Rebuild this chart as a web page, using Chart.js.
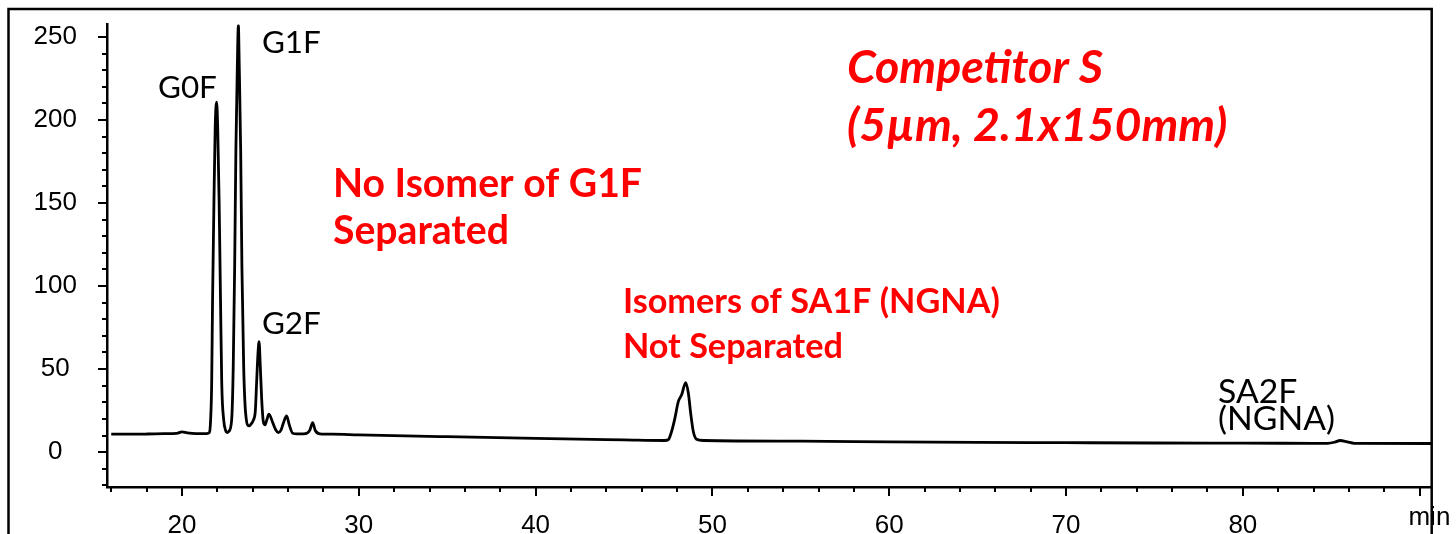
<!DOCTYPE html>
<html><head><meta charset="utf-8">
<script src="https://cdn.jsdelivr.net/npm/chart.js@4.4.1/dist/chart.umd.min.js"></script>
<style>html,body{margin:0;padding:0;background:#fff;}#wrap{width:1456px;height:534px;position:relative;overflow:hidden}</style>
</head><body><div id="wrap"><canvas id="c" width="1456" height="534"></canvas></div>
<script>
// ---- data ----
const retentionTime = [16.0,17.0,18.0,19.0,19.7,20.0,20.3,20.8,21.4,21.55,21.62,21.68,21.73,21.81,21.88,21.96,22.02,22.10,22.18,22.25,22.36,22.47,22.55,22.65,22.81,22.90,22.98,23.05,23.13,23.19,23.24,23.32,23.39,23.49,23.60,23.79,23.95,24.05,24.15,24.22,24.30,24.36,24.43,24.51,24.60,24.70,24.80,24.92,25.13,25.30,25.45,25.60,25.73,25.92,26.07,26.26,26.50,26.86,27.10,27.24,27.39,27.54,27.80,28.5,30.0,35.0,40.0,45.0,47.3,47.5,47.69,47.88,48.07,48.26,48.49,48.64,48.77,48.92,49.10,49.5,55,60,65,70,75,80,84.8,85.2,85.5,85.9,86.3,90.68];
const signal = [10.8,10.8,10.9,11.1,11.3,12.2,11.6,11.2,11.2,11.8,19.4,41.3,91.6,151.8,195.9,210.8,195.9,151.8,91.6,41.3,19.4,13.0,11.8,12.5,19.4,51.5,111.7,181.9,232.0,257.0,232.0,181.9,111.7,51.5,23.5,15.8,17.5,19.5,25.0,41.5,59.6,66.5,51.5,31.5,18.4,16.4,19.5,22.9,17.8,13.5,11.8,13.2,17.4,21.8,16.4,11.4,11.0,11.0,11.6,13.4,17.8,13.0,11.0,10.8,10.4,9.3,8.3,7.4,7.0,7.4,12.4,20.5,30.4,34.5,41.9,35.5,23.5,12.4,7.8,7.0,6.6,6.2,5.9,5.7,5.5,5.4,5.3,6.0,7.0,6.2,5.3,5.2];

const xMajorTicks = [20,30,40,50,60,70,80];
const xAllTicks = [16,18,20,22,24,26,28,30,32,34,36,38,40,42,44,46,48,50,52,54,56,58,60,62,64,66,68,70,72,74,76,78,80,82,84,86,88,90];
const yMajorTicks = [0,50,100,150,200,250];
const yAllTicks = [-20,-10,0,10,20,30,40,50,60,70,80,90,100,110,120,130,140,150,160,170,180,190,200,210,220,230,240,250];
const xUnitLabel = 'min';

// ---- text annotations (data coordinates); each group shares one font size ----
const textGroups = {
  peak:   {font:'normal 400', fit:'G0F', w:59},
  sa:     {font:'normal 400', fit:'(NGNA)', w:117},
  note:   {font:'normal 700', fit:'Separated', w:176},
  title:  {font:'italic 700', fit:'Competitor S', w:256},
  note2:  {font:'normal 700', fit:'Not Separated', w:220}
};
const annotations = [
  {text:'G0F', x:18.64, y:213.2, group:'peak', color:'#000'},
  {text:'G1F', x:24.52, y:240.3, group:'peak', color:'#000'},
  {text:'G2F', x:24.52, y:71.2, group:'peak', color:'#000'},
  {text:'No Isomer of G1F', x:28.54, y:153.6, group:'note', color:'#ff0000'},
  {text:'Separated', x:28.54, y:125.4, group:'note', color:'#ff0000'},
  {text:'Competitor S', x:57.61, y:222.4, group:'title', color:'#ff0000'},
  {text:'(5\u00b5m, 2.1x150mm)', x:57.61, y:187.6, group:'title', color:'#ff0000'},
  {text:'Isomers of SA1F (NGNA)', x:44.94, y:83.8, group:'note2', color:'#ff0000'},
  {text:'Not Separated', x:44.94, y:56.7, group:'note2', color:'#ff0000'},
  {text:'SA2F', x:78.6, y:29.7, group:'sa', color:'#000'},
  {text:'(NGNA)', x:78.6, y:13.4, group:'sa', color:'#000'}
];
const annFamily = 'Lato, "Open Sans", sans-serif';
const tickFamily = '"Liberation Sans", Arial, sans-serif';

const decor = {
  id:'decor',
  afterDraw(chart){
    const ctx = chart.ctx, xs = chart.scales.x, ys = chart.scales.y, a = chart.chartArea;
    ctx.save();
    // outer frame
    ctx.strokeStyle = '#000'; ctx.lineWidth = 2.5;
    ctx.beginPath();
    ctx.moveTo(8.5, 600); ctx.lineTo(8.5, 9); ctx.lineTo(a.right, 9); ctx.lineTo(a.right, 600);
    ctx.stroke();
    // tick marks
    ctx.lineWidth = 2;
    xAllTicks.forEach(v => {
      const px = Math.round(xs.getPixelForValue(v));
      const len = xMajorTicks.includes(v) || v === 90 ? 9 : 5;
      ctx.beginPath(); ctx.moveTo(px, a.bottom); ctx.lineTo(px, a.bottom + len); ctx.stroke();
    });
    yAllTicks.forEach(v => {
      const py = Math.round(ys.getPixelForValue(v));
      const len = yMajorTicks.includes(v) ? 9 : 5;
      ctx.beginPath(); ctx.moveTo(a.left, py); ctx.lineTo(a.left - len, py); ctx.stroke();
    });
    // unit label
    ctx.fillStyle = '#000';
    ctx.font = '26px ' + tickFamily;
    ctx.textAlign = 'center'; ctx.textBaseline = 'middle';
    ctx.fillText(xUnitLabel, xs.getPixelForValue(90.55), a.bottom + 31);
    // annotations
    ctx.textAlign = 'left'; ctx.textBaseline = 'alphabetic';
    const sizes = {};
    Object.keys(textGroups).forEach(k => {
      const g = textGroups[k];
      ctx.font = g.font + ' 100px ' + annFamily;
      sizes[k] = 100 * g.w / ctx.measureText(g.fit).width;
    });
    annotations.forEach(t => {
      const g = textGroups[t.group];
      ctx.font = g.font + ' ' + sizes[t.group].toFixed(2) + 'px ' + annFamily;
      ctx.fillStyle = t.color;
      ctx.fillText(t.text, xs.getPixelForValue(t.x), ys.getPixelForValue(t.y));
    });
    ctx.restore();
  }
};

new Chart(document.getElementById('c'), {
  type:'line',
  data:{datasets:[{
    data: retentionTime.map((t,i)=>({x:t, y:signal[i]})),
    borderColor:'#000', borderWidth:2.8, pointRadius:0, fill:false,
    cubicInterpolationMode:'monotone'
  }]},
  options:{
    responsive:false, animation:false, devicePixelRatio:1,
    layout:{padding:{top:24.5, right:24.3, left:0, bottom:0}},
    plugins:{legend:{display:false}, tooltip:{enabled:false}},
    scales:{
      x:{
        type:'linear', min:15.76, max:90.68,
        afterFit(s){ s.height = 47; s.paddingLeft = 0; s.paddingRight = 0; },
        afterBuildTicks(s){ s.ticks = xAllTicks.map(v=>({value:v})); },
        grid:{display:false},
        border:{display:true, color:'#000', width:2.5},
        ticks:{padding:15, autoSkip:false, maxRotation:0, minRotation:0, color:'#000',
          font:{family:tickFamily, size:26},
          callback:(v)=> xMajorTicks.includes(v) ? String(v) : ''}
      },
      y:{
        type:'linear', min:-21, max:257.5,
        afterFit(s){ s.width = 107; s.paddingTop = 0; s.paddingBottom = 0; },
        afterBuildTicks(s){ s.ticks = yAllTicks.map(v=>({value:v})); },
        grid:{display:false},
        border:{display:true, color:'#000', width:2.5},
        ticks:{padding:22, crossAlign:'center', autoSkip:false, color:'#000',
          font:{family:tickFamily, size:26},
          callback:(v)=> yMajorTicks.includes(v) ? String(v) : ''}
      }
    }
  },
  plugins:[decor]
});
</script>
</body></html>
